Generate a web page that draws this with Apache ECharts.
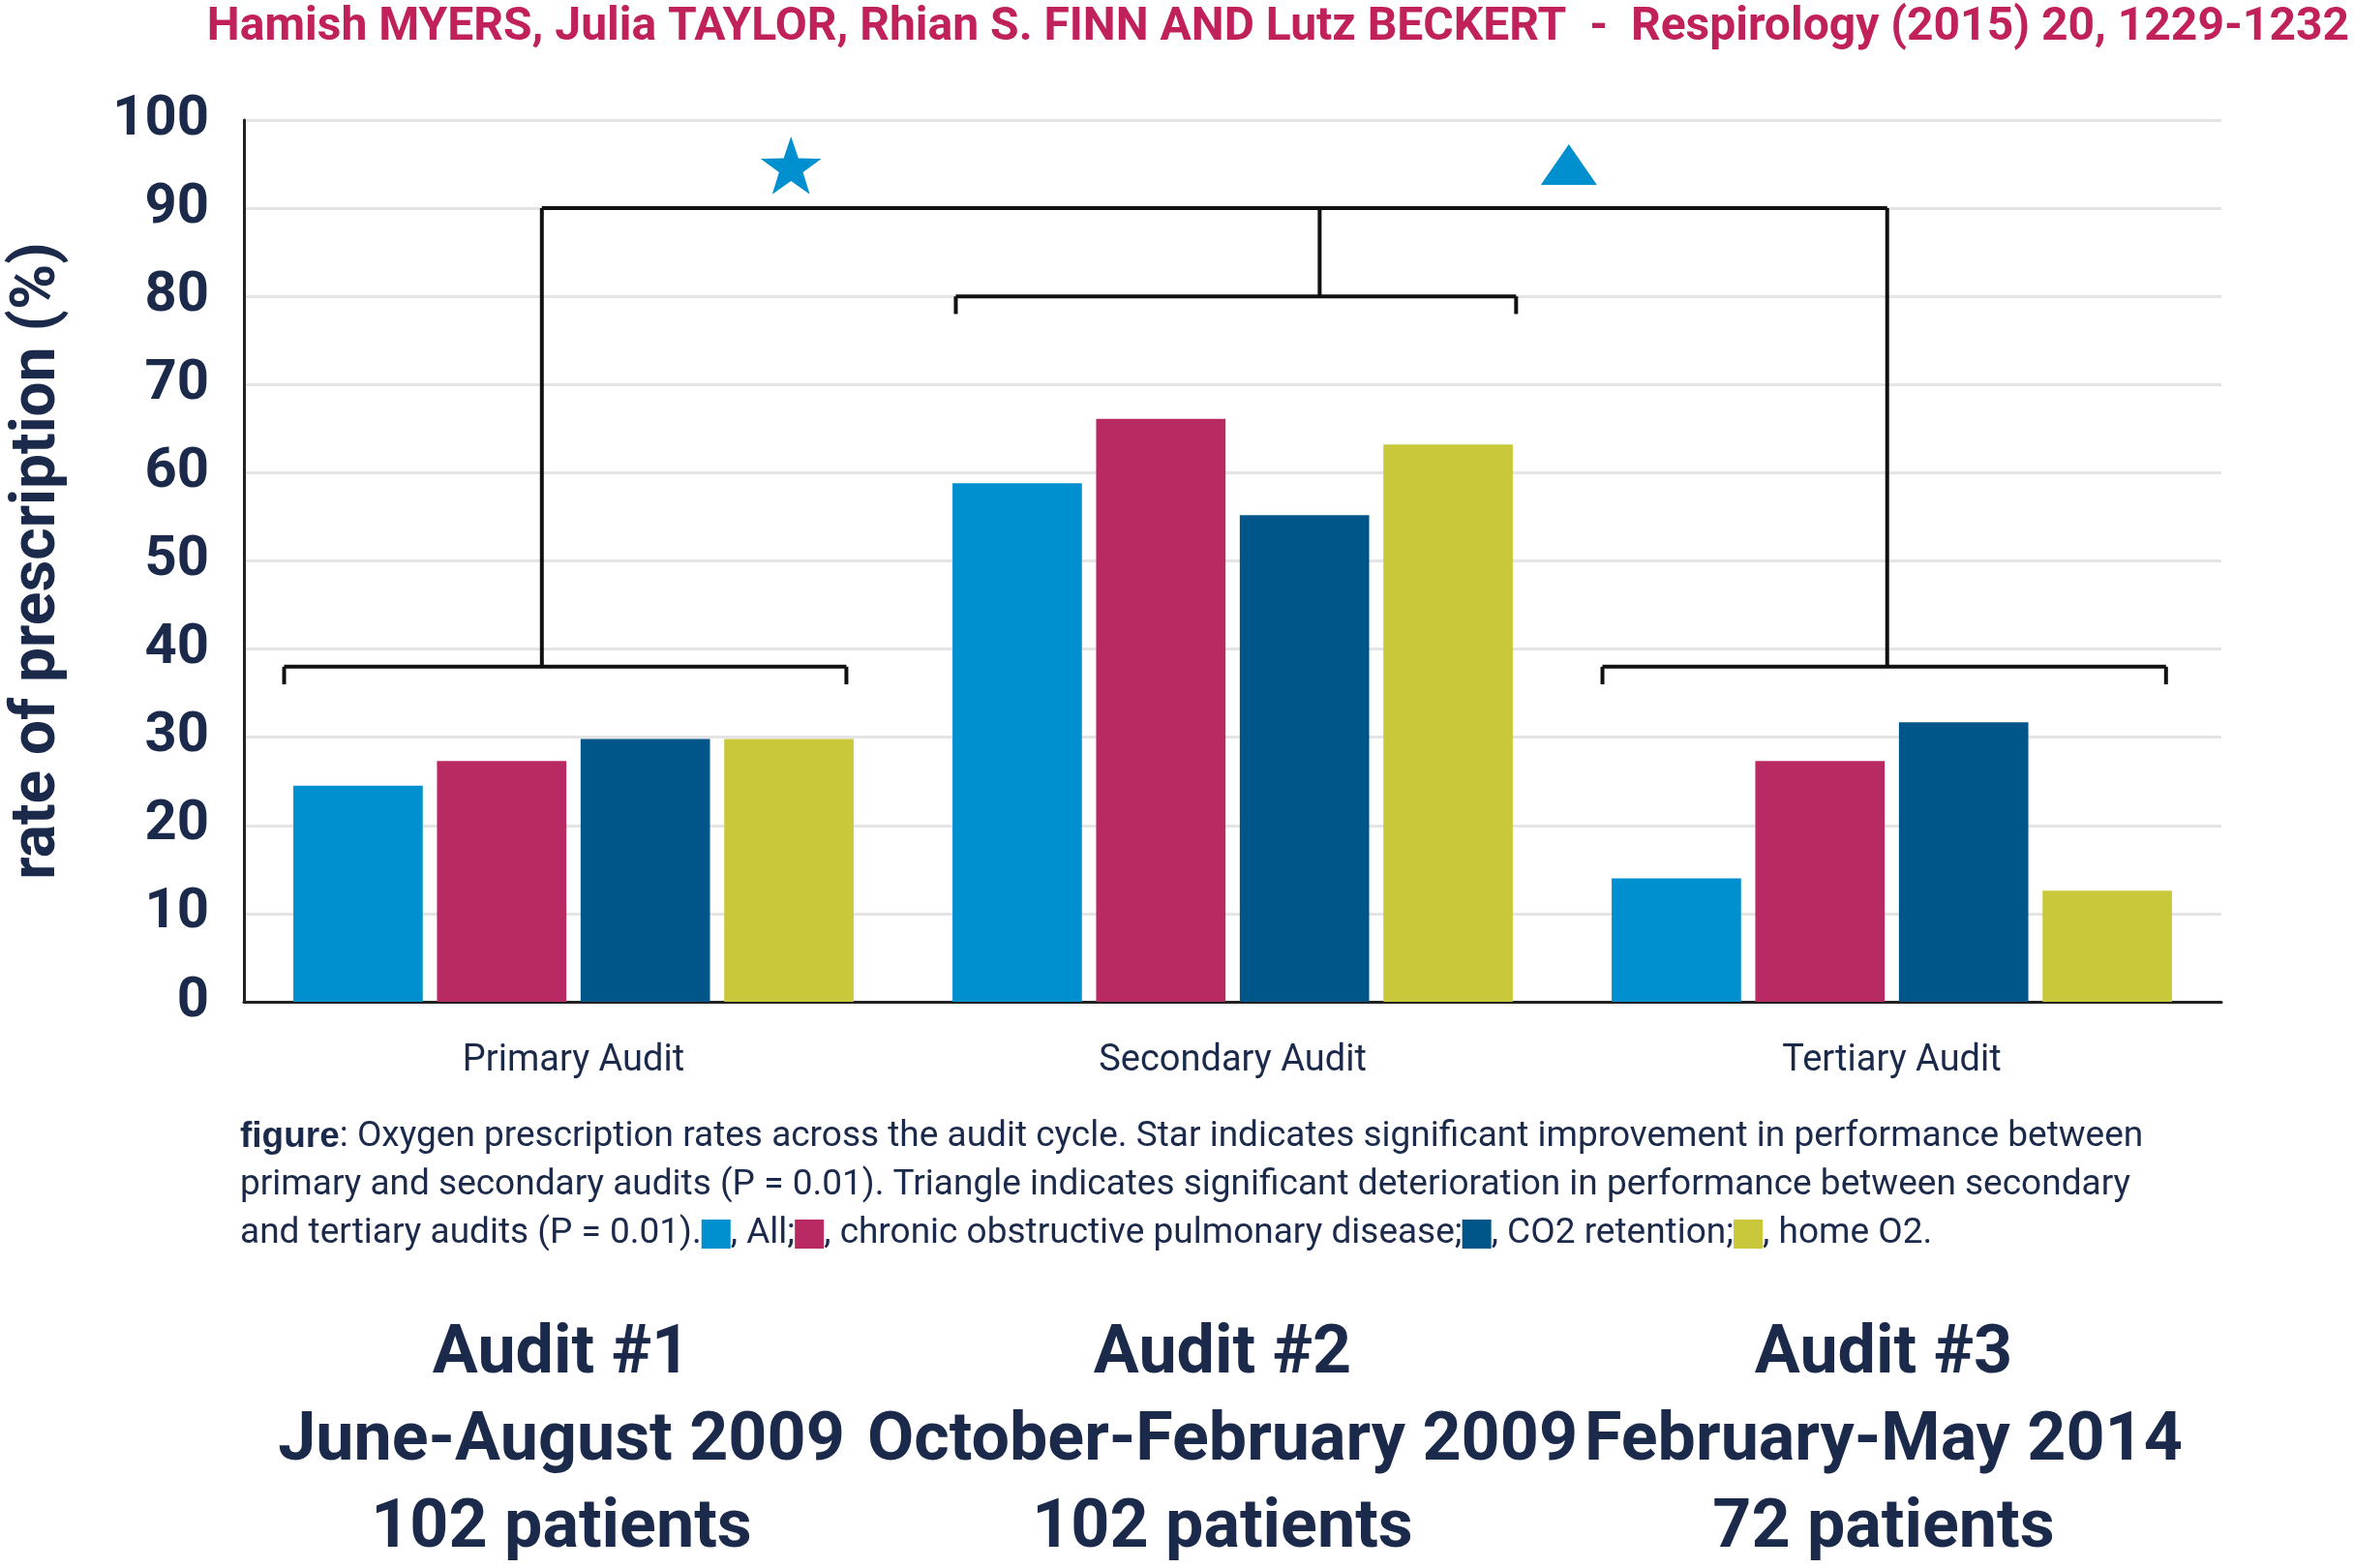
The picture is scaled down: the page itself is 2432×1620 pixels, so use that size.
<!DOCTYPE html>
<html>
<head>
<meta charset="utf-8">
<script src="https://cdn.jsdelivr.net/npm/echarts@6/dist/echarts.min.js"></script>
<style>html,body{margin:0;padding:0;background:#fff}#main{width:2432px;height:1620px}</style>
</head>
<body>
<div id="main"></div>
<script>
// 数据
let audits = ['Primary Audit', 'Secondary Audit', 'Tertiary Audit'];
let allPatients = [24.5, 58.8, 14];
let copd = [27.3, 66.1, 27.3];
let co2Retention = [29.8, 55.2, 31.7];
let homeO2 = [29.8, 63.2, 12.6];
let yTicks = [0, 10, 20, 30, 40, 50, 60, 70, 80, 90, 100];
// 括号线 [x1, y1, x2, y2]，x 为 0..3 的组位置
let brackets = [
    [0.061, 36, 0.061, 38], [0.061, 38, 0.914, 38], [0.914, 38, 0.914, 36], [0.452, 38, 0.452, 90],
    [1.08, 78, 1.08, 80], [1.08, 80, 1.93, 80], [1.93, 80, 1.93, 78], [1.632, 80, 1.632, 90],
    [2.061, 36, 2.061, 38], [2.061, 38, 2.916, 38], [2.916, 38, 2.916, 36], [2.493, 38, 2.493, 90],
    [0.452, 90, 2.493, 90]
];
let markers = [[0.83, 94.5, 'star'], [2.01, 94.5, 'triangle']];

let colors = ['#0090d0', '#b92a62', '#005689', '#c9c83a'];
let navy = '#1b2a4a';

let bar = (name, data, i) => ({
    name: name, type: 'bar', data: data, xAxisIndex: 0,
    barGap: '11%', barCategoryGap: '15%',
    itemStyle: {color: colors[i]}
});

let chart = echarts.init(document.getElementById('main'));
chart.setOption({
    animation: false,
    textStyle: {fontFamily: 'Roboto'},
    grid: {left: 248, right: 137, top: 124, bottom: 585},
    title: {
        text: '{a|Hamish MYERS, Julia TAYLOR, Rhian S. FINN AND Lutz BECKERT  -  }{b|Respirology (2015) 20, 1229-1232}',
        right: 0, top: 0,
        textStyle: {rich: {
            a: {fontSize: 48, fontWeight: 'bold', color: '#c0215b', fontFamily: 'Roboto'},
            b: {fontSize: 48, color: '#c0215b', fontFamily: 'Roboto'}
        }}
    },
    xAxis: [{
        type: 'category', data: audits,
        axisLine: {lineStyle: {color: '#222', width: 3}},
        axisTick: {show: false},
        axisLabel: {color: navy, fontSize: 38, margin: 42}
    }, {
        type: 'value', min: 0, max: 3, show: false
    }],
    yAxis: {
        type: 'value', min: 0, max: 100, interval: 10,
        name: 'rate of prescription (%)', nameLocation: 'middle', nameGap: 180,
        nameTextStyle: {color: navy, fontSize: 64, fontWeight: 'bold'},
        axisLine: {show: true, lineStyle: {color: '#222', width: 3}},
        axisTick: {show: false},
        axisLabel: {color: navy, fontSize: 58, fontWeight: 'bold', margin: 36,
            formatter: v => yTicks.indexOf(v) >= 0 ? v : ''},
        splitLine: {lineStyle: {color: '#e4e4e4', width: 3}}
    },
    series: [
        bar('All', allPatients, 0),
        bar('chronic obstructive pulmonary disease', copd, 1),
        bar('CO2 retention', co2Retention, 2),
        bar('home O2', homeO2, 3),
        {
            type: 'custom', xAxisIndex: 1, data: brackets,
            renderItem: (params, api) => {
                let p1 = api.coord([api.value(0), api.value(1)]);
                let p2 = api.coord([api.value(2), api.value(3)]);
                return {type: 'line', shape: {x1: p1[0], y1: p1[1], x2: p2[0], y2: p2[1]},
                    style: {stroke: '#111', lineWidth: 4}};
            }
        },
        {
            type: 'custom', xAxisIndex: 1, data: markers,
            renderItem: (params, api) => {
                let p = api.coord([api.value(0), api.value(1)]);
                let kind = markers[params.dataIndex][2];
                if (kind === 'star') {
                    let pts = [];
                    for (let k = 0; k < 10; k++) {
                        let r = k % 2 ? 13 : 33, a = -Math.PI / 2 + k * Math.PI / 5;
                        pts.push([p[0] + r * Math.cos(a), p[1] + r * Math.sin(a)]);
                    }
                    return {type: 'polygon', shape: {points: pts}, style: {fill: '#0090d0'}};
                }
                return {type: 'polygon', shape: {points: [[p[0], p[1] - 25], [p[0] - 29, p[1] + 17], [p[0] + 29, p[1] + 17]]},
                    style: {fill: '#0090d0'}};
            }
        }
    ],
    graphic: [{
        type: 'text', left: 248, top: 1150,
        style: {
            text: '{b|figure}: Oxygen prescription rates across the audit cycle. Star indicates significant improvement in performance between\n' +
                'primary and secondary audits (P = 0.01). Triangle indicates significant deterioration in performance between secondary\n' +
                'and tertiary audits (P = 0.01).{s0|}, All;{s1|}, chronic obstructive pulmonary disease;{s2|}, CO2 retention;{s3|}, home O2.',
            fill: navy, fontSize: 37, lineHeight: 50, fontFamily: 'Roboto',
            rich: {
                b: {fontWeight: 'bold', fontSize: 37, fill: navy},
                s0: {backgroundColor: colors[0], width: 30, height: 30},
                s1: {backgroundColor: colors[1], width: 30, height: 30},
                s2: {backgroundColor: colors[2], width: 30, height: 30},
                s3: {backgroundColor: colors[3], width: 30, height: 30}
            }
        }
    }].concat([
        [580, 'Audit #1\nJune-August 2009\n102 patients'],
        [1263, 'Audit #2\nOctober-February 2009\n102 patients'],
        [1946, 'Audit #3\nFebruary-May 2014\n72 patients']
    ].map(d => ({
        type: 'text', x: d[0], y: 1355,
        style: {text: d[1], fill: navy, fontSize: 70, fontWeight: 'bold', lineHeight: 90,
            align: 'center', fontFamily: 'Roboto', letterSpacing: -2}
    })))
});
</script>
</body>
</html>
